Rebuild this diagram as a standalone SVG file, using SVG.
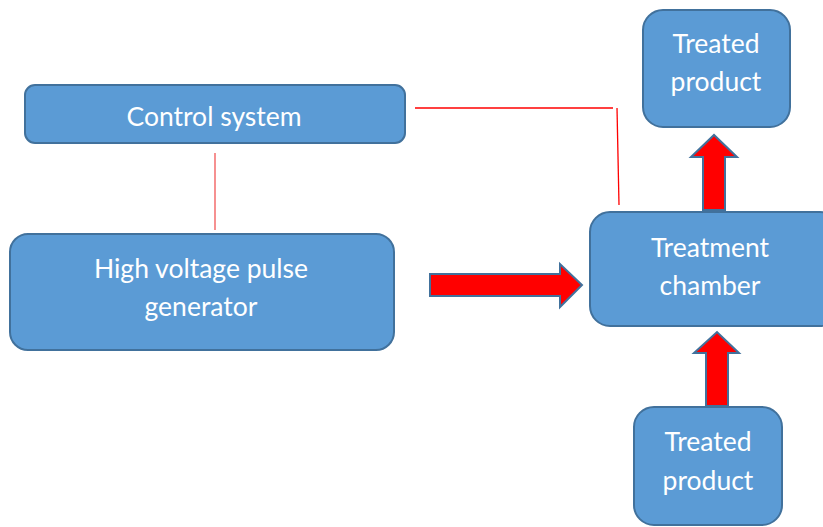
<svg xmlns="http://www.w3.org/2000/svg" width="823" height="527" viewBox="0 0 823 527">
<style>
.box{fill:#5b9bd5;stroke:#41719c;stroke-width:2}
.t{fill:#ffffff;font-family:"Lato","Liberation Sans",sans-serif;font-size:26.5px;text-anchor:middle}
.arr{fill:#ff0000;stroke:#41719c;stroke-width:2;stroke-linejoin:miter}
.ln{stroke:#ff0000;stroke-width:1.3;fill:none}
</style>
<rect width="823" height="527" fill="#ffffff"/>
<g id="connectors">
<line class="ln" x1="415" y1="108" x2="613" y2="108"/>
<line class="ln" x1="617" y1="108" x2="619" y2="205"/>
<line class="ln" x1="215" y1="153" x2="215" y2="230" style="stroke:#f25555"/>
<path class="arr" d="M430,274 H560 V264 L582,285 L560,307 V296 H430 Z"/>
<path class="arr" d="M703,210 V157 H691 L714,135 L737,157 H725 V210 Z"/>
<path class="arr" d="M706,406 V353 H694 L717,332 L739,353 H728 V406 Z"/>
</g>
<g id="control">
<rect class="box" x="25" y="85" width="380" height="58" rx="10"/>
<text class="t" x="214" y="126">Control system</text>
</g>
<g id="hv">
<rect class="box" x="10" y="234" width="384" height="116" rx="18"/>
<text class="t" x="201" y="278">High voltage pulse</text>
<text class="t" x="201" y="316">generator</text>
</g>
<g id="chamber">
<rect class="box" x="590" y="212" width="250" height="114" rx="20"/>
<text class="t" x="710" y="257">Treatment</text>
<text class="t" x="710" y="295">chamber</text>
</g>
<g id="product-top">
<rect class="box" x="643" y="10" width="147" height="117" rx="20"/>
<text class="t" x="716" y="53">Treated</text>
<text class="t" x="716" y="91">product</text>
</g>
<g id="product-bottom">
<rect class="box" x="634" y="407" width="148" height="118" rx="20"/>
<text class="t" x="708" y="451">Treated</text>
<text class="t" x="708" y="490">product</text>
</g>
</svg>
